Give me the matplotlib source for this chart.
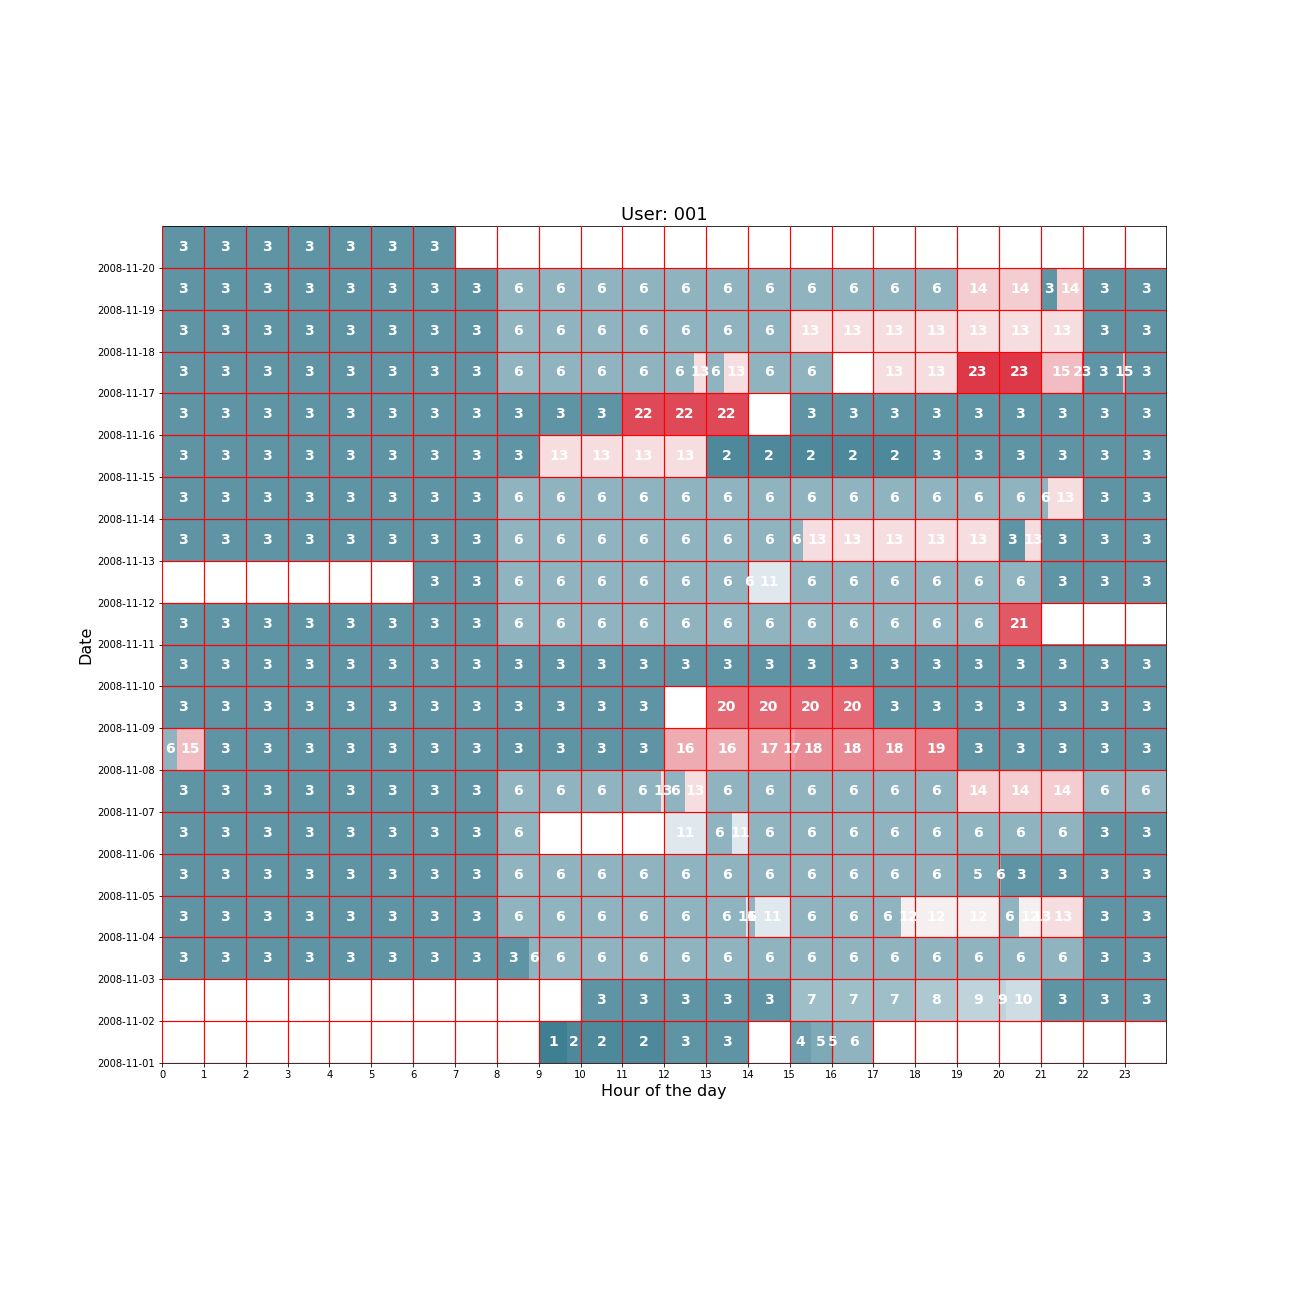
import numpy as np
import matplotlib
matplotlib.use('Agg')
import matplotlib.pyplot as plt
from matplotlib.colors import LinearSegmentedColormap, Normalize

dates = ['2008-11-%02d' % d for d in range(1, 21)]
hours = list(range(24))

# segments per day: (start hour, end hour, label)
d01 = [(9, 9.68, 1), (9.68, 12, 2), (12, 14, 3), (15, 15.5, 4), (15.5, 16.05, 5), (16.05, 17, 6)]
d02 = [(10, 15, 3), (15, 18, 7), (18, 19, 8), (19, 20.16, 9), (20.16, 21, 10), (21, 24, 3)]
d03 = [(0, 8.78, 3), (8.78, 22, 6), (22, 24, 3)]
d04 = [(0, 8, 3), (8, 13.96, 6), (13.96, 14.0, 11), (14.0, 14.17, 6), (14.17, 15, 11),
       (15, 17.67, 6), (17.67, 20, 12), (20, 20.48, 6), (20.48, 21, 12), (21, 21.05, 13),
       (21.05, 22, 13), (22, 24, 3)]
d05 = [(0, 8, 3), (8, 19, 6), (19, 20, 5), (20, 20.05, 6), (20.05, 24, 3)]
d06 = [(0, 8, 3), (8, 9, 6), (12, 13, 11), (13, 13.63, 6), (13.63, 14, 11), (14, 22, 6), (22, 24, 3)]
d07 = [(0, 8, 3), (8, 11.93, 6), (11.93, 12, 13), (12, 12.5, 6), (12.5, 13, 13), (13, 19, 6),
       (19, 22, 14), (22, 24, 6)]
d08 = [(0, 0.37, 6), (0.37, 1, 15), (1, 12, 3), (12, 14, 16), (14, 15.12, 17), (15.12, 18, 18),
       (18, 19, 19), (19, 24, 3)]
d09 = [(0, 12, 3), (13, 17, 20), (17, 24, 3)]
d10 = [(0, 24, 3)]
d11 = [(0, 8, 3), (8, 20, 6), (20, 21, 21)]
d12 = [(6, 8, 3), (8, 14.03, 6), (14.03, 15, 11), (15, 21, 6), (21, 24, 3)]
d13 = [(0, 8, 3), (8, 15.31, 6), (15.31, 20, 13), (20, 20.63, 3), (20.63, 21, 13), (21, 24, 3)]
d14 = [(0, 8, 3), (8, 21.18, 6), (21.18, 22, 13), (22, 24, 3)]
d15 = [(0, 9, 3), (9, 13, 13), (13, 18, 2), (18, 24, 3)]
d16 = [(0, 11, 3), (11, 14, 22), (15, 24, 3)]
d17 = [(0, 8, 3), (8, 12.72, 6), (12.72, 13, 13), (13, 13.43, 6), (13.43, 14, 13), (14, 16, 6),
       (17, 19, 13), (19, 21, 23), (21, 21.99, 15), (21.99, 22, 23), (22, 22.96, 3),
       (22.96, 23, 15), (23, 24, 3)]
d18 = [(0, 8, 3), (8, 15, 6), (15, 22, 13), (22, 24, 3)]
d19 = [(0, 8, 3), (8, 19, 6), (19, 21, 14), (21, 21.38, 3), (21.38, 22, 14), (22, 24, 3)]
d20 = [(0, 7, 3)]

days = [d01, d02, d03, d04, d05, d06, d07, d08, d09, d10,
        d11, d12, d13, d14, d15, d16, d17, d18, d19, d20]

# diverging blue -> light grey -> red
cmap = LinearSegmentedColormap.from_list('div', [
    (0.0, (63/255, 127/255, 146/255)),
    (0.497, (237/255, 242/255, 245/255)),
    (0.5, (242/255, 242/255, 242/255)),
    (0.503, (248/255, 237/255, 238/255)),
    (1.0, (221/255, 56/255, 72/255))])
norm = Normalize(vmin=1, vmax=23)

fig = plt.figure(figsize=(18, 18))
ax = fig.add_axes([0.125, 233/1296, 0.775, 837/1296])

for i, segs in enumerate(days):
    for start, end, val in segs:
        ax.barh(i + 0.5, end - start, left=start, height=1.0,
                color=cmap(norm(val)), edgecolor='none', linewidth=0)
        # one label per piece of the segment inside each hour
        for h in range(int(np.floor(start)), int(np.ceil(end - 1e-9))):
            a = max(start, h)
            b = min(end, h + 1)
            if b - a <= 1e-9:
                continue
            ax.text((a + b) / 2, i + 0.5, str(val), color='white', fontsize=14,
                    fontweight='bold', ha='center', va='center')

ax.set_xlim(0, 24)
ax.set_ylim(0, 20)
ax.set_xticks(hours)
ax.set_xticklabels([str(h) for h in hours], fontsize=10)
ax.set_yticks(range(20))
ax.set_yticklabels(dates, fontsize=10)
ax.set_axisbelow(False)
ax.grid(color='red', linewidth=1.2)
ax.set_xlabel('Hour of the day', fontsize=16)
ax.set_ylabel('Date', fontsize=16)
ax.set_title('User: 001', fontsize=18)

plt.savefig('out.png', dpi=72)
